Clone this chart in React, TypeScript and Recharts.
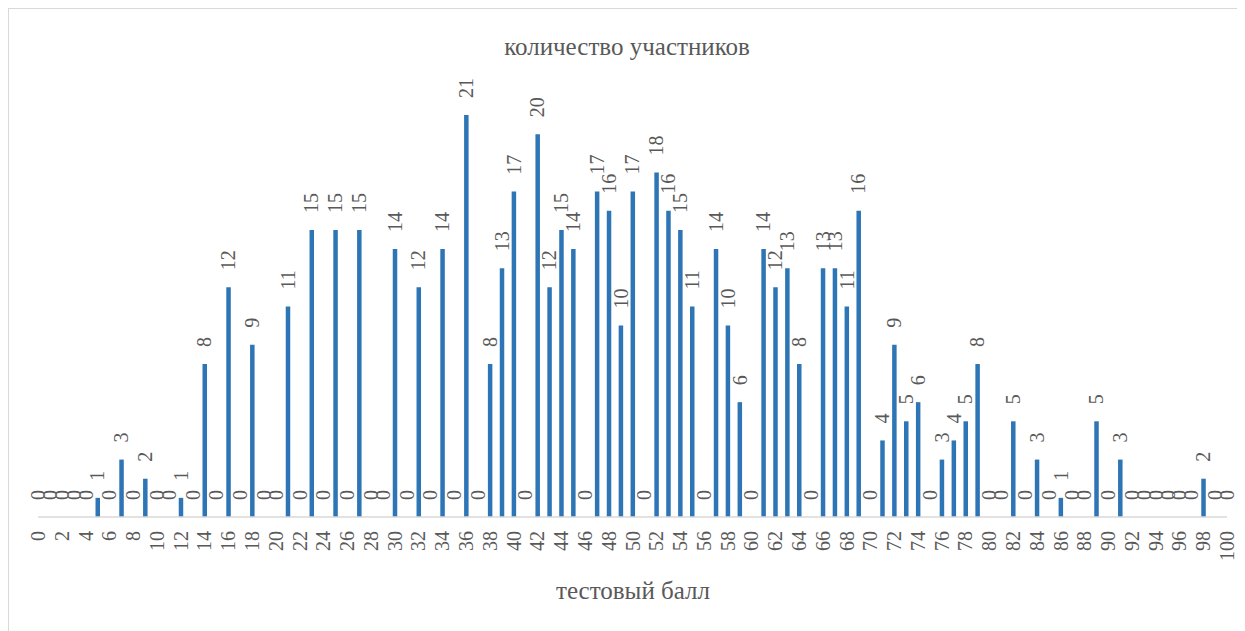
import React from "react";
import { ComposedChart, Bar, Line, XAxis, YAxis, LabelList } from "recharts";

const scores: number[] = Array.from({ length: 101 }, (_, i) => i);
const counts: number[] = [
  0, 0, 0, 0, 0, 1, 0, 3, 0, 2,
  0, 0, 1, 0, 8, 0, 12, 0, 9, 0,
  0, 11, 0, 15, 0, 15, 0, 15, 0, 0,
  14, 0, 12, 0, 14, 0, 21, 0, 8, 13,
  17, 0, 20, 12, 15, 14, 0, 17, 16, 10,
  17, 0, 18, 16, 15, 11, 0, 14, 10, 6,
  0, 14, 12, 13, 8, 0, 13, 13, 11, 16,
  0, 4, 9, 5, 6, 0, 3, 4, 5, 8,
  0, 0, 5, 0, 3, 0, 1, 0, 0, 5,
  0, 3, 0, 0, 0, 0, 0, 0, 2, 0,
  0,
];
const tickValues: number[] = Array.from({ length: 51 }, (_, i) => i * 2);

const data = scores.map((s, i) => ({ score: s, count: counts[i] }));

const FONT = "Liberation Serif, DejaVu Serif, Times New Roman, serif";
const TEXT = "#595959";

const Tick = (props: any) => {
  const { x, payload } = props;
  const y = 522;
  return (
    <text
      x={x}
      y={y}
      transform={`rotate(-90, ${x}, ${y})`}
      textAnchor="end"
      dominantBaseline="central"
      fontFamily={FONT}
      fontSize={20}
      fill={TEXT}
    >
      {payload.value}
    </text>
  );
};

const ValueLabel = (props: any) => {
  const { x, y, value } = props;
  const cx = Number(x);
  const ty = Number(y) - 17;
  return (
    <text
      x={cx}
      y={ty}
      transform={`rotate(-90, ${cx}, ${ty})`}
      textAnchor="start"
      dominantBaseline="central"
      fontFamily={FONT}
      fontSize={20}
      fill={TEXT}
    >
      {value}
    </text>
  );
};

export default function App() {
  return (
    <div
      style={{
        position: "relative",
        width: 1236,
        height: 640,
        border: "1px solid #d9d9d9",
        background: "#fff",
        overflow: "hidden",
      }}
    >
      <div
        style={{
          position: "absolute",
          left: 0,
          right: 0,
          top: 23,
          textAlign: "center",
          fontFamily: FONT,
          fontSize: 25,
          color: TEXT,
          lineHeight: "30px",
        }}
      >
        количество участников
      </div>
      <div
        style={{
          position: "absolute",
          left: 0,
          right: 0,
          top: 567,
          textAlign: "center",
          fontFamily: FONT,
          fontSize: 25,
          color: TEXT,
          lineHeight: "30px",
          paddingLeft: 12,
        }}
      >
        тестовый балл
      </div>
      <div style={{ position: "absolute", left: 0, top: 0 }}>
        <ComposedChart
          width={1236}
          height={640}
          data={data}
          margin={{ top: 29.5, right: 18, left: 29, bottom: 72 }}
        >
          <XAxis
            dataKey="score"
            type="number"
            domain={[0, 100]}
            ticks={tickValues}
            interval={0}
            tickLine={false}
            axisLine={{ stroke: "#d9d9d9", strokeWidth: 1.5 }}
            tick={<Tick />}
            height={60}
            allowDecimals={false}
          />
          <YAxis hide domain={[0, 25]} />
          <Bar dataKey="count" fill="#2e75b6" barSize={4.5} isAnimationActive={false} />
          <Line
            dataKey="count"
            stroke="none"
            dot={false}
            activeDot={false}
            isAnimationActive={false}
          >
            <LabelList dataKey="count" content={<ValueLabel />} />
          </Line>
        </ComposedChart>
      </div>
    </div>
  );
}
